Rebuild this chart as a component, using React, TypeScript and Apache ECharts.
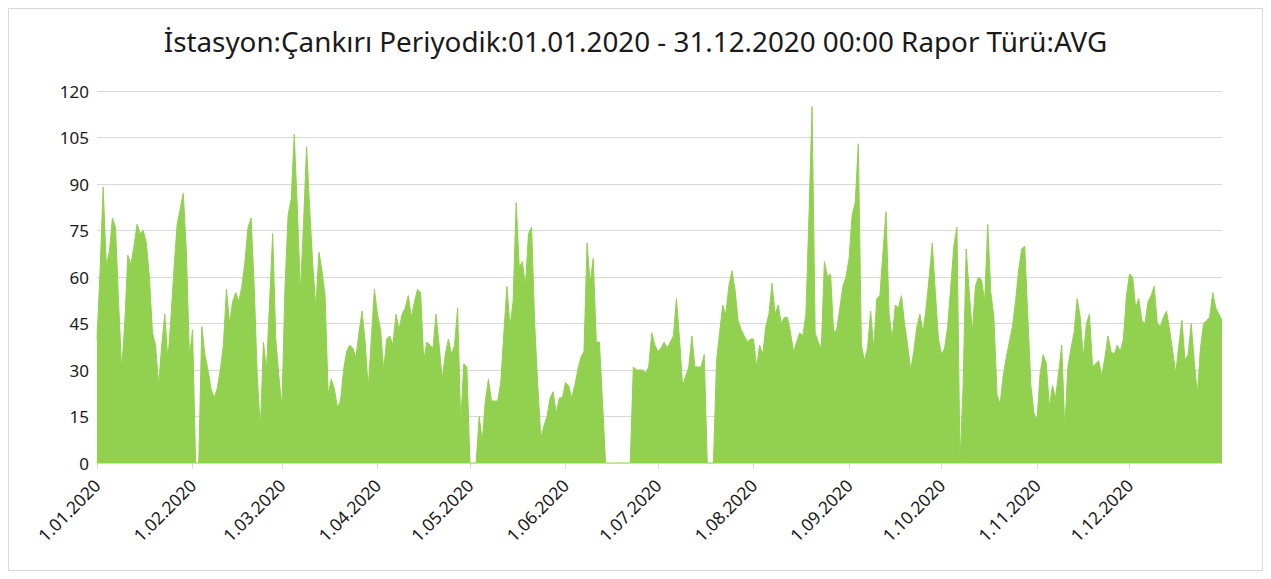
import React, { useEffect, useRef } from "react";
import * as echarts from "echarts";

const TITLE = "İstasyon:Çankırı Periyodik:01.01.2020 - 31.12.2020 00:00 Rapor Türü:AVG";

const YEAR = 2020;
const MONTH_DAYS = [31, 29, 31, 30, 31, 30, 31, 31, 30, 31, 30, 31];

// daily average values, one array per month
const jan = [40, 62, 89, 64, 68, 79, 76, 52, 30, 45, 67, 64, 70, 77, 74, 75, 71, 60, 42, 38, 25, 38, 48, 33, 47, 63, 77, 82, 87, 68, 34];
const feb = [43, 0, 0, 44, 35, 30, 24, 21, 24, 30, 38, 56, 45, 52, 55, 52, 57, 65, 76, 79, 57, 28, 11, 39, 30, 52, 74, 40, 28];
const mar = [18, 57, 80, 85, 106, 82, 55, 77, 102, 82, 64, 50, 68, 62, 54, 22, 27, 24, 18, 20, 30, 36, 38, 37, 34, 42, 49, 39, 24, 40, 56];
const apr = [48, 43, 30, 40, 41, 38, 48, 43, 48, 50, 54, 47, 52, 56, 55, 33, 39, 38, 37, 48, 38, 27, 35, 40, 35, 38, 50, 13, 32, 31];
const may = [0, 0, 0, 15, 7, 20, 27, 20, 20, 20, 26, 42, 57, 44, 52, 84, 63, 65, 57, 74, 76, 45, 25, 8, 12, 15, 21, 23, 16, 21, 21];
const jun = [26, 25, 21, 25, 30, 34, 36, 71, 58, 66, 39, 39, 20, 0, 0, 0, 0, 0, 0, 0, 0, 0, 31, 30, 30, 30, 29, 31, 42, 38];
const jul = [36, 37, 39, 37, 39, 41, 53, 40, 25, 28, 31, 41, 31, 31, 31, 35, 0, 0, 0, 33, 42, 51, 48, 57, 62, 56, 46, 43, 41, 39, 40];
const aug = [40, 31, 38, 35, 44, 48, 58, 48, 51, 45, 47, 47, 42, 36, 39, 42, 41, 48, 80, 115, 42, 39, 37, 65, 60, 61, 42, 43, 50, 57, 60];
const sep = [66, 80, 84, 103, 38, 33, 37, 49, 37, 53, 54, 68, 81, 48, 40, 51, 50, 54, 45, 38, 30, 36, 44, 48, 42, 50, 60, 71, 55, 40];
const oct = [35, 37, 44, 57, 70, 76, 0, 25, 69, 55, 42, 57, 60, 59, 52, 77, 55, 47, 22, 19, 28, 34, 39, 44, 52, 62, 69, 70, 47, 25, 16];
const nov = [14, 29, 35, 32, 18, 25, 21, 29, 38, 11, 31, 37, 42, 53, 47, 34, 45, 48, 31, 32, 33, 28, 34, 41, 36, 35, 38, 36, 40, 54];
const dec = [61, 60, 50, 53, 46, 45, 52, 54, 57, 45, 44, 47, 49, 43, 36, 29, 38, 46, 33, 35, 45, 33, 22, 37, 45, 46, 47, 55, 50, 48, 46];

const values = [...jan, ...feb, ...mar, ...apr, ...may, ...jun, ...jul, ...aug, ...sep, ...oct, ...nov, ...dec];

// category labels: d.MM.yyyy
const dates: string[] = [];
MONTH_DAYS.forEach((n, m) => {
  for (let d = 1; d <= n; d++) {
    dates.push(`${d}.${String(m + 1).padStart(2, "0")}.${YEAR}`);
  }
});

const isMonthStart = (_i: number, v: string) => v.startsWith("1.");

const FONT = "'Noto Sans', sans-serif";

export default function App() {
  const ref = useRef<HTMLDivElement>(null);

  useEffect(() => {
    if (!ref.current) return;
    const chart = echarts.init(ref.current, undefined, { renderer: "svg" });
    chart.setOption({
      animation: false,
      backgroundColor: "#ffffff",
      title: {
        text: TITLE,
        left: "center",
        top: 13,
        textStyle: { fontFamily: FONT, fontSize: 27.8, fontWeight: "normal", color: "#1a1a1a" },
      },
      grid: { left: 88, right: 40, top: 82, bottom: 107, containLabel: false },
      xAxis: {
        type: "category",
        data: dates,
        boundaryGap: false,
        axisLine: { lineStyle: { color: "#d9d9d9", width: 1 } },
        axisTick: { show: true, interval: isMonthStart, length: 6, lineStyle: { color: "#d9d9d9" } },
        axisLabel: {
          interval: isMonthStart,
          rotate: 45,
          fontFamily: FONT,
          fontSize: 17.5,
          color: "#1a1a1a",
          margin: 19,
        },
        splitLine: { show: false },
      },
      yAxis: {
        type: "value",
        min: 0,
        max: 120,
        interval: 15,
        axisLine: { show: false },
        axisTick: { show: false },
        axisLabel: { fontFamily: FONT, fontSize: 17, color: "#1a1a1a", margin: 8 },
        splitLine: { lineStyle: { color: "#d9d9d9", width: 1 } },
      },
      series: [
        {
          type: "line",
          data: values,
          showSymbol: false,
          symbol: "none",
          lineStyle: { color: "#92d050", width: 1 },
          itemStyle: { color: "#92d050" },
          areaStyle: { color: "#92d050", opacity: 1 },
        },
      ],
    });
    return () => chart.dispose();
  }, []);

  return (
    <div
      ref={ref}
      style={{
        width: 1255,
        height: 563,
        border: "1px solid #d9d9d9",
        boxSizing: "border-box",
      }}
    />
  );
}
